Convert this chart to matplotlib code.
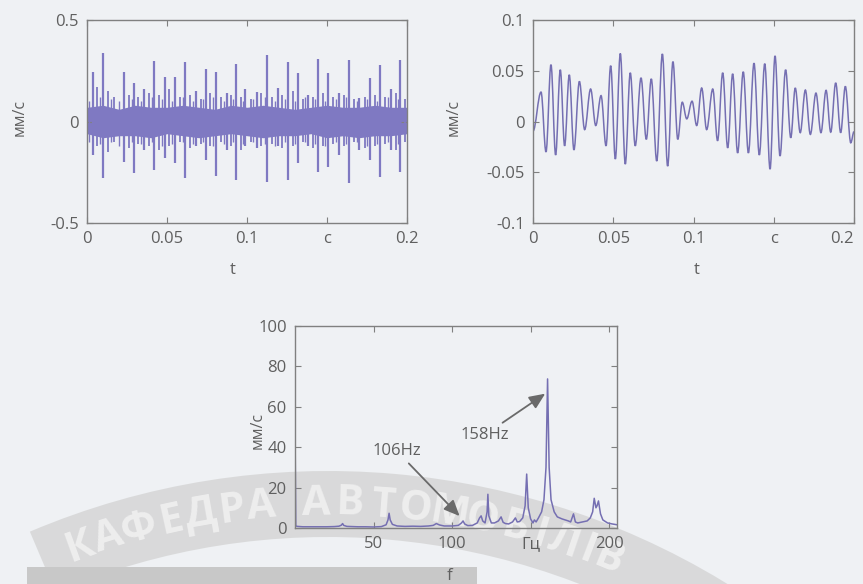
import numpy as np
import matplotlib
matplotlib.use("Agg")
import matplotlib.pyplot as plt
from matplotlib.path import Path
from matplotlib.patches import PathPatch, Wedge, Rectangle
import matplotlib.transforms as mtransforms

plt.rcParams['font.family'] = ['Open Sans', 'DejaVu Sans']

# ---- top-left: raw vibration velocity (spikes + dense band) ----
t_spk = [0.0035, 0.0103, 0.0233, 0.0295, 0.0358, 0.0419, 0.0488, 0.0550, 0.0615, 0.0680,
         0.0742, 0.0806, 0.0873, 0.0934, 0.0988, 0.1060, 0.1127, 0.1196, 0.1254, 0.1317,
         0.1380, 0.1443, 0.1509, 0.1575, 0.1639, 0.1700, 0.1769, 0.1833, 0.1900, 0.1958]
up_spk = [0.245, 0.336, 0.245, 0.19, 0.16, 0.30, 0.22, 0.22, 0.295, 0.15,
          0.26, 0.245, 0.14, 0.283, 0.16, 0.147, 0.328, 0.163, 0.295, 0.237,
          0.133, 0.306, 0.237, 0.139, 0.303, 0.115, 0.213, 0.278, 0.16, 0.303]
dn_spk = [-0.165, -0.28, -0.198, -0.255, -0.14, -0.239, -0.18, -0.206, -0.28, -0.12,
          -0.19, -0.27, -0.14, -0.29, -0.12, -0.13, -0.296, -0.12, -0.288, -0.206,
          -0.12, -0.247, -0.222, -0.165, -0.305, -0.14, -0.19, -0.272, -0.14, -0.247]

t_mid = [0.0060, 0.0130, 0.0170, 0.0262, 0.0320, 0.0390, 0.0450, 0.0515, 0.0580, 0.0645,
         0.0710, 0.0770, 0.0835, 0.0900, 0.0960, 0.1025, 0.1090, 0.1155, 0.1220, 0.1285,
         0.1350, 0.1410, 0.1475, 0.1540, 0.1605, 0.1670, 0.1735, 0.1800, 0.1865, 0.1930, 0.1990]
up_mid = [0.17, 0.15, 0.12, 0.13, 0.12, 0.14, 0.13, 0.16, 0.12, 0.13,
          0.11, 0.14, 0.12, 0.13, 0.12, 0.11, 0.14, 0.12, 0.13, 0.15,
          0.11, 0.12, 0.14, 0.12, 0.13, 0.11, 0.12, 0.13, 0.12, 0.14, 0.11]
dn_mid = [-0.12, -0.15, -0.10, -0.13, -0.11, -0.12, -0.14, -0.12, -0.10, -0.13,
          -0.11, -0.12, -0.10, -0.12, -0.14, -0.10, -0.12, -0.11, -0.13, -0.12,
          -0.10, -0.13, -0.12, -0.11, -0.12, -0.10, -0.13, -0.12, -0.11, -0.14, -0.10]

t_sml = [0.0015, 0.0080, 0.0150, 0.0200, 0.0280, 0.0340, 0.0405, 0.0470, 0.0530, 0.0600,
         0.0660, 0.0725, 0.0790, 0.0855, 0.0915, 0.0975, 0.1040, 0.1110, 0.1175, 0.1240,
         0.1300, 0.1365, 0.1425, 0.1490, 0.1555, 0.1620, 0.1685, 0.1750, 0.1815, 0.1880, 0.1945]
up_sml = [0.10, 0.12, 0.11, 0.10, 0.11, 0.10, 0.12, 0.11, 0.10, 0.12,
          0.10, 0.11, 0.12, 0.10, 0.11, 0.10, 0.11, 0.12, 0.10, 0.11,
          0.10, 0.12, 0.11, 0.10, 0.11, 0.12, 0.10, 0.11, 0.10, 0.12, 0.11]
dn_sml = [-0.10, -0.11, -0.10, -0.12, -0.10, -0.11, -0.10, -0.12, -0.11, -0.10,
          -0.11, -0.10, -0.12, -0.11, -0.10, -0.11, -0.10, -0.11, -0.12, -0.10,
          -0.11, -0.10, -0.11, -0.12, -0.10, -0.11, -0.10, -0.12, -0.11, -0.10, -0.11]

t_band = [0.0, 0.01, 0.02, 0.03, 0.04, 0.05, 0.06, 0.07, 0.08, 0.09, 0.10,
          0.11, 0.12, 0.13, 0.14, 0.15, 0.16, 0.17, 0.18, 0.19, 0.20]
band_hi = [0.07, 0.08, 0.06, 0.08, 0.07, 0.07, 0.08, 0.07, 0.06, 0.08, 0.07,
           0.08, 0.07, 0.06, 0.07, 0.08, 0.07, 0.07, 0.08, 0.07, 0.07]
band_lo = [-0.06, -0.08, -0.07, -0.07, -0.08, -0.06, -0.07, -0.08, -0.07, -0.06, -0.07,
           -0.08, -0.07, -0.07, -0.06, -0.08, -0.07, -0.08, -0.07, -0.07, -0.06]

# ---- top-right: filtered signal, extremes of each half period ----
t_ext = [0.0000, 0.0050, 0.0081, 0.0112, 0.0141, 0.0170, 0.0197, 0.0226, 0.0255, 0.0289,
         0.0322, 0.0359, 0.0391, 0.0424, 0.0455, 0.0484, 0.0513, 0.0544, 0.0575, 0.0606,
         0.0637, 0.0673, 0.0706, 0.0737, 0.0771, 0.0806, 0.0839, 0.0872, 0.0902, 0.0930,
         0.0958, 0.0991, 0.1020, 0.1051, 0.1082, 0.1120, 0.1150, 0.1182, 0.1213, 0.1244,
         0.1275, 0.1310, 0.1342, 0.1377, 0.1410, 0.1444, 0.1477, 0.1508, 0.1539, 0.1574,
         0.1606, 0.1634, 0.1665, 0.1697, 0.1728, 0.1763, 0.1794, 0.1826, 0.1855, 0.1886,
         0.1917, 0.1946, 0.1980, 0.2000]
v_ext = [-0.0095, 0.029, -0.030, 0.056, -0.033, 0.051, -0.024, 0.046, -0.028, 0.0395,
         -0.008, 0.032, -0.004, 0.0255, -0.024, 0.055, -0.037, 0.067, -0.042, 0.048,
         -0.024, 0.043, -0.0176, 0.042, -0.039, 0.0666, -0.044, 0.059, -0.0176, 0.019,
         0.0026, 0.020, -0.004, 0.033, -0.008, 0.032, -0.019, 0.048, -0.026, 0.047,
         -0.031, 0.049, -0.031, 0.0575, -0.033, 0.057, -0.047, 0.0647, -0.034, 0.051,
         -0.016, 0.033, -0.011, 0.031, -0.0127, 0.028, -0.011, 0.0307, -0.0105, 0.038,
         -0.011, 0.0346, -0.021, -0.010]

# ---- bottom: amplitude spectrum ----
freq = [0, 0.5, 1.5, 5, 10, 15, 20, 25, 28, 29.5, 30.3, 31, 33, 40, 45, 50, 55, 58, 59.2,
        59.9, 60.6, 62, 65, 70, 75, 80, 85, 88, 90, 92, 95, 100, 104, 106, 107, 108, 110,
        113, 116, 117.5, 118.5, 119.5, 121, 122.3, 122.8, 123.4, 125, 127, 129.5, 131.2,
        132.5, 134, 136, 138.5, 140.3, 141.5, 143, 145, 146.5, 147.5, 148.5, 150, 151.5,
        152.4, 153.5, 155, 157, 158.5, 159.8, 160.8, 161.8, 163, 165, 167, 170, 172, 174,
        175.5, 177.3, 178.5, 180, 183, 186, 188, 189.5, 190.5, 191.6, 192.3, 193.2, 194.5,
        196, 199, 202, 205]
amp = [52, 1.0, 0.8, 0.6, 0.6, 0.6, 0.6, 0.7, 0.9, 1.4, 2.2, 1.3, 0.8, 0.6, 0.6, 0.5, 0.7,
       1.6, 4.0, 7.3, 4.0, 1.8, 1.0, 0.8, 0.9, 0.8, 1.0, 1.3, 2.2, 1.5, 1.0, 1.0, 1.3, 2.5,
       3.5, 2.0, 1.2, 1.3, 2.5, 5.0, 6.0, 3.5, 2.5, 8, 16.7, 6, 2.5, 2.5, 3.5, 5.5, 2.8, 2.2,
       2.0, 3.0, 5.0, 3.0, 3.2, 5, 11, 26.7, 10, 4.5, 2.5, 4.0, 3.0, 5, 8, 14, 30, 73.8, 30,
       14, 8, 5.5, 4.5, 4, 3.5, 3, 7, 3, 2.5, 3.0, 3.5, 5.0, 8, 14.7, 10, 11, 13.4, 7, 4,
       2.5, 2.0, 1.6]

W, H = 863, 584
fig = plt.figure(figsize=(W / 100, H / 100), dpi=100, facecolor='#eff1f4')

# watermark (behind everything)
px = mtransforms.Affine2D().scale(1.0 / W, 1.0 / H) + fig.transFigure
cx, cy, R = 328, -650, 763
band = Wedge((cx, cy), R, 57, 113, width=66, transform=px, facecolor='#d4d4d4',
             edgecolor='none', alpha=0.8, zorder=-3)
fig.patches.append(band)
fig.patches.append(Rectangle((27, 0), 450, 17, transform=px, facecolor='#c8c8c8',
                             edgecolor='none', zorder=-3))
wm_chars = list("КАФЕДРААВТОМОБІЛІВ")
wm_angles = [-19.9, -17.5, -15.0, -12.4, -10.0, -7.6, -5.2, -0.9, 1.7, 4.3,
             6.9, 9.6, 12.2, 14.8, 16.9, 18.8, 20.8, 22.6]
for ch, a in zip(wm_chars, wm_angles):
    r = 730
    x = cx + r * np.sin(np.radians(a))
    y = cy + r * np.cos(np.radians(a))
    fig.text(x / W, y / H, ch, rotation=-a, rotation_mode='anchor', ha='center',
             va='center', fontsize=30, fontweight='bold', color='#f3f3f3', alpha=0.8,
             zorder=-2)

tick_col = '#5f5f5f'
line_col = '#7f79c2'


def style(ax):
    ax.set_facecolor('none')
    for s in ax.spines.values():
        s.set_color('#808080')
        s.set_linewidth(1.0)
    ax.tick_params(direction='in', top=True, right=True, length=4, width=0.8,
                   color='#808080', labelcolor=tick_col, labelsize=12, pad=6)


# top-left
ax1 = fig.add_axes([87 / W, 1 - 223 / H, 320 / W, 203 / H])
style(ax1)
ax1.fill_between(t_band, band_lo, band_hi, color=line_col, lw=0)
ax1.vlines(t_sml, dn_sml, up_sml, color=line_col, lw=1.0)
ax1.vlines(t_mid, dn_mid, up_mid, color=line_col, lw=1.3)
ax1.vlines(t_spk, dn_spk, up_spk, color=line_col, lw=1.6)
ax1.set_xlim(0, 0.2)
ax1.set_ylim(-0.5, 0.5)
ax1.set_xticks([0, 0.05, 0.1, 0.15, 0.2])
ax1.set_xticklabels(['0', '0.05', '0.1', 'с', '0.2'])
ax1.set_yticks([-0.5, 0, 0.5])
ax1.set_yticklabels(['-0.5', '0', '0.5'])
ax1.set_xlabel('t', fontsize=12, color=tick_col)
ax1.xaxis.set_label_coords(0.455, -0.19)
ax1.set_ylabel('мм/с', fontsize=11.5, color=tick_col)
ax1.yaxis.set_label_coords(-0.185, 0.52)

# top-right
ax2 = fig.add_axes([533 / W, 1 - 223 / H, 321 / W, 203 / H])
style(ax2)
verts = [(t_ext[0], v_ext[0])]
codes = [Path.MOVETO]
for i in range(len(t_ext) - 1):
    dt = t_ext[i + 1] - t_ext[i]
    verts += [(t_ext[i] + 0.36 * dt, v_ext[i]), (t_ext[i + 1] - 0.36 * dt, v_ext[i + 1]),
              (t_ext[i + 1], v_ext[i + 1])]
    codes += [Path.CURVE4] * 3
ax2.add_patch(PathPatch(Path(verts, codes), fill=False, edgecolor='#756fb2', lw=1.1))
ax2.set_xlim(0, 0.2)
ax2.set_ylim(-0.1, 0.1)
ax2.set_xticks([0, 0.05, 0.1, 0.15, 0.2])
ax2.set_xticklabels(['0', '0.05', '0.1', 'с', '0.2'])
ax2.get_xticklabels()[-1].set_horizontalalignment('right')
ax2.set_yticks([-0.1, -0.05, 0, 0.05, 0.1])
ax2.set_yticklabels(['-0.1', '-0.05', '0', '0.05', '0.1'])
ax2.set_xlabel('t', fontsize=12, color=tick_col)
ax2.xaxis.set_label_coords(0.51, -0.19)
ax2.set_ylabel('мм/с', fontsize=11.5, color=tick_col)
ax2.yaxis.set_label_coords(-0.222, 0.52)

# bottom spectrum
ax3 = fig.add_axes([295 / W, 1 - 528 / H, 322 / W, 202 / H])
style(ax3)
ax3.plot(freq, amp, color='#756fb2', lw=1.1)
ax3.set_xlim(0, 205)
ax3.set_ylim(0, 100)
ax3.set_xticks([50, 100, 150, 200])
ax3.set_xticklabels(['50', '100', 'Гц', '200'])
ax3.set_yticks([0, 20, 40, 60, 80, 100])
ax3.set_xlabel('f', fontsize=12, color=tick_col)
ax3.xaxis.set_label_coords(0.48, -0.2)
ax3.set_ylabel('мм/с', fontsize=11.5, color=tick_col)
ax3.yaxis.set_label_coords(-0.09, 0.485)

arr = dict(arrowstyle='-|>,head_length=0.8,head_width=0.35', color='#6a6a6a', lw=1.3,
           shrinkA=2, shrinkB=0)
ax3.annotate('106Hz', xy=(104.8, 5.9), xytext=(64.6, 38.3), ha='center', va='center',
             fontsize=12, color=tick_col, arrowprops=arr)
ax3.annotate('158Hz', xy=(159.3, 66.5), xytext=(120.6, 46), ha='center', va='center',
             fontsize=12, color=tick_col, arrowprops=arr)

fig.savefig('out.png', dpi=100, facecolor=fig.get_facecolor())
